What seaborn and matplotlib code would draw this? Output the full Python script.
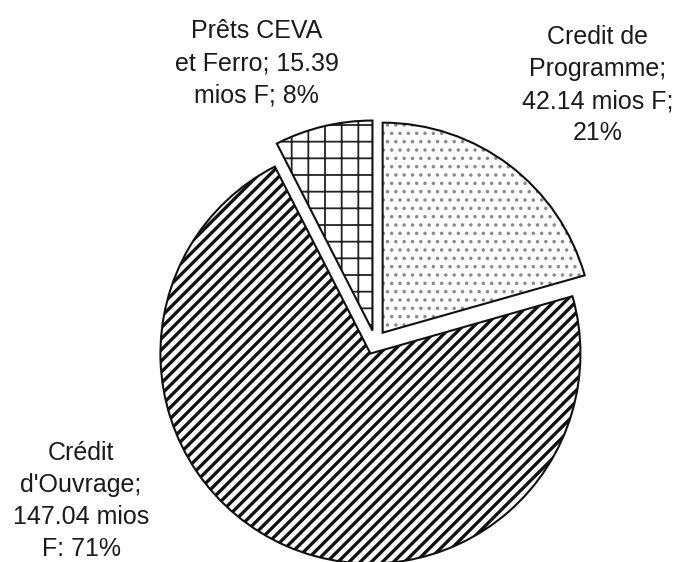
import matplotlib
matplotlib.use("Agg")
import matplotlib.pyplot as plt
import seaborn as sns

# data
categories = ["Credit de Programme", "Crédit d'Ouvrage", "Prêts CEVA et Ferro"]
values = [42.14, 147.04, 15.39]
labels = ["Credit de\nProgramme;\n42.14 mios F;\n21%",
          "Crédit\nd'Ouvrage;\n147.04 mios\nF: 71%",
          "Prêts CEVA\net Ferro; 15.39\nmios F; 8%"]
label_pos = [(1.060, 1.225), (-1.401, -0.755), (-0.564, 1.33)]
hatches = ["..", "///", "+"]
hatch_colors = ["#8a8a8a", "#111111", "#222222"]
hatch_widths = [1.3, 2.4, 1.3]

sns.set_theme(style="white")
plt.rcParams["font.family"] = ["Liberation Sans", "DejaVu Sans"]

fig = plt.figure(figsize=(6.79, 5.62), dpi=100)
ax = fig.add_axes([0, 0, 1, 1])

explode = [0.058] * len(values)

# hatched fill first (hatch takes the edge colour), then black outlines
fills, _ = ax.pie(values, startangle=90, counterclock=False, explode=explode,
                  radius=1, wedgeprops=dict(facecolor="white", linewidth=0))
for w, h, c, lw in zip(fills, hatches, hatch_colors, hatch_widths):
    w.set_hatch(h)
    w.set_edgecolor(c)
    w.set_linewidth(0)
    w.set_hatch_linewidth(lw)

ax.pie(values, startangle=90, counterclock=False, explode=explode, radius=1,
       wedgeprops=dict(fill=False, edgecolor="#111111", linewidth=1.5))

for lab, (x, y) in zip(labels, label_pos):
    ax.text(x, y, lab, ha="center", va="center", fontsize=18,
            color="#1a1a1a", linespacing=1.42)

ax.set_xlim(-375.3 / 210, (679 - 375.3) / 210)
ax.set_ylim(-(562 - 342.4) / 210, 342.4 / 210)
ax.set_aspect("equal")
ax.axis("off")

fig.savefig("out.png", dpi=100, facecolor="white")
